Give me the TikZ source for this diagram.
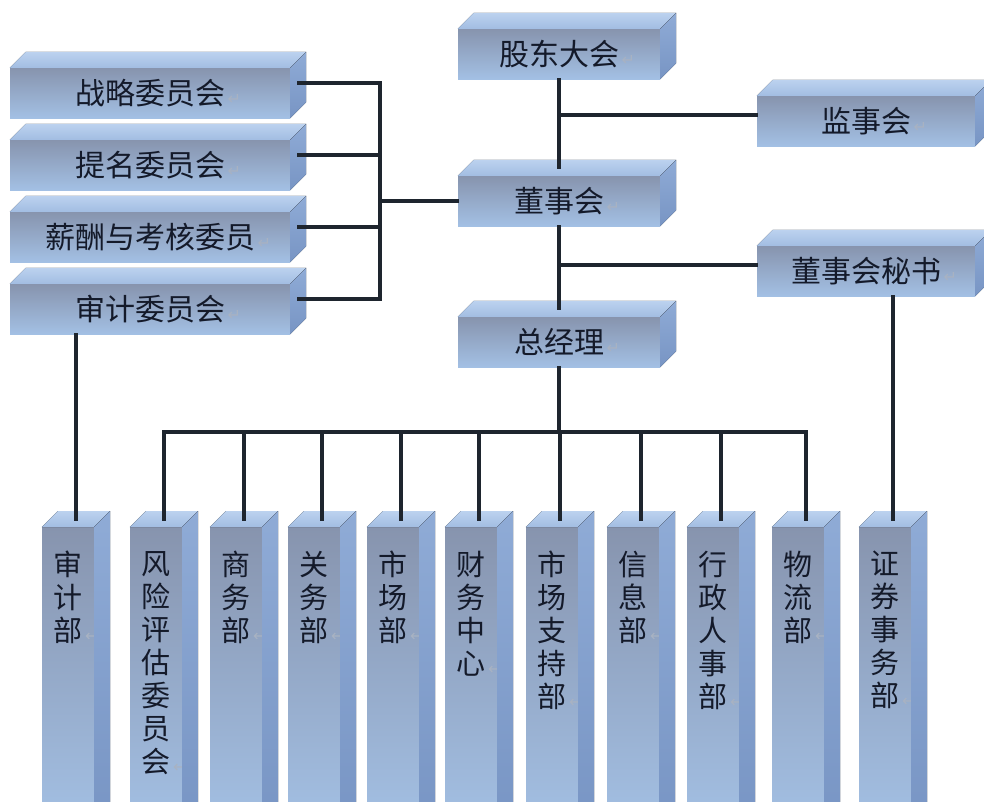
\documentclass[tikz,border=0pt]{standalone}
\usepackage{fontspec}
\newfontfamily\cjk{Noto Sans CJK SC}
\newfontfamily\symf{DejaVu Sans}
\definecolor{frontTop}{HTML}{8794AE}
\definecolor{frontBot}{HTML}{A3C0E4}
\definecolor{topBack}{HTML}{BCD2EF}
\definecolor{topFront}{HTML}{A2BDE2}
\definecolor{sideTop}{HTML}{8FABD6}
\definecolor{sideBot}{HTML}{7895C4}
\definecolor{wire}{HTML}{1E252E}
\definecolor{retmark}{HTML}{A8B2C2}
\definecolor{ink}{HTML}{141A2A}
\newcommand{\ret}{\rlap{\textcolor{retmark}{\symf\fontsize{16}{16}\selectfont\,↵}}}

\begin{document}
\begin{tikzpicture}
	[x=1pt,y=-1pt,
	box/.style={rectangle, inner sep=0pt, top color=frontTop, bottom color=frontBot, text=ink, font=\cjk\fontsize{30}{34}\selectfont},
	hbox/.style={box, minimum width=202pt, minimum height=50pt},
	rbox/.style={box, minimum width=218pt, minimum height=50pt},
	cbox/.style={box, minimum width=280pt, minimum height=50pt},
	col/.style={rectangle, inner sep=0pt, anchor=north, minimum width=52pt, minimum height=300pt, top color=frontTop, middle color=frontBot, bottom color=frontBot},
	coltext/.style={anchor=north, inner sep=0pt, align=center, text=ink, font=\cjk\fontsize{29}{33}\selectfont},
	wire/.style={draw=wire, line width=3.2pt, line cap=rect}]
	\clip (0,0) rectangle (984,801);
	\fill[white] (0,0) rectangle (984,801);

	% middle and right
	\node[hbox] (gd) at (559,54) {股东大会\ret};
	\node[rbox] (jsh) at (866,121) {监事会\ret};
	\node[hbox] (dsh) at (559,201) {董事会\ret};
	\node[rbox] (ms) at (866,271) {董事会秘书\ret};
	\node[hbox] (zjl) at (559,342) {总经理\ret};

	% committees
	\node[cbox] (zl) at (150,93) {战略委员会\ret};
	\node[cbox] (tm) at (150,165) {提名委员会\ret};
	\node[cbox] (xc) at (150,237) {薪酬与考核委员\ret};
	\node[cbox] (sj) at (150,309) {审计委员会\ret};

	% departments
	\node[col] (sjb) at (68,527) {};
	\node[col] (fx) at (156,527) {};
	\node[col] (sw) at (236,527) {};
	\node[col] (gw) at (314,527) {};
	\node[col] (sc) at (393,527) {};
	\node[col] (cw) at (471,527) {};
	\node[col] (sczc) at (552,527) {};
	\node[col] (xx) at (633,527) {};
	\node[col] (xz) at (713,527) {};
	\node[col] (wl) at (798,527) {};
	\node[col] (zq) at (885,527) {};

	\node[coltext] (sjbt) at ([yshift=-24pt]sjb.north) {审\\计\\部\ret};
	\node[coltext] (fxt) at ([yshift=-24pt]fx.north) {风\\险\\评\\估\\委\\员\\会\ret};
	\node[coltext] (swt) at ([yshift=-24pt]sw.north) {商\\务\\部\ret};
	\node[coltext] (gwt) at ([yshift=-24pt]gw.north) {关\\务\\部\ret};
	\node[coltext] (sct) at ([yshift=-24pt]sc.north) {市\\场\\部\ret};
	\node[coltext] (cwt) at ([yshift=-24pt]cw.north) {财\\务\\中\\心\ret};
	\node[coltext] (sczct) at ([yshift=-24pt]sczc.north) {市\\场\\支\\持\\部\ret};
	\node[coltext] (xxt) at ([yshift=-24pt]xx.north) {信\\息\\部\ret};
	\node[coltext] (xzt) at ([yshift=-24pt]xz.north) {行\\政\\人\\事\\部\ret};
	\node[coltext] (wlt) at ([yshift=-24pt]wl.north) {物\\流\\部\ret};
	\node[coltext] (zqt) at ([yshift=-24pt]zq.north) {证\\券\\事\\务\\部\ret};

	% top and side faces
	\foreach \n in {gd,jsh,dsh,ms,zjl,zl,tm,xc,sj,sjb,fx,sw,gw,sc,cw,sczc,xx,xz,wl,zq} {
		\fill[top color=topBack, bottom color=topFront] (\n.north west) -- ++(16,-16) -- ([shift={(16,-16)}]\n.north east) -- (\n.north east) -- cycle;
		\fill[top color=sideTop, bottom color=sideBot] (\n.north east) -- ++(16,-16) -- ([shift={(16,-16)}]\n.south east) -- (\n.south east) -- cycle;
	}

	% connectors
	\coordinate (j1) at (559,115);
	\coordinate (j2) at (559,265);
	\coordinate (bus) at (559,432);
	\coordinate (lbus) at (380,201);

	\draw[wire] (gd.south) -- ([yshift=8pt]dsh.north);
	\draw[wire] (dsh.south) -- ([yshift=8pt]zjl.north);
	\draw[wire] (j1) -- (j1 -| jsh.west);
	\draw[wire] (j2) -- (j2 -| ms.west);
	\draw[wire] (zjl.south) -- (bus);
	\draw[wire] (lbus) -- (lbus -| dsh.west);

	\foreach \n in {zl,tm,xc,sj} {
		\coordinate (s\n) at ([shift={(8,-10)}]\n.east);
		\draw[wire] (s\n) -- (s\n -| lbus);
	}
	\draw[wire] (szl -| lbus) -- (ssj -| lbus);

	\foreach \n in {sjb,fx,sw,gw,sc,cw,sczc,xx,xz,wl,zq}
		\coordinate (t\n) at ([shift={(8,-8)}]\n.north);
	\draw[wire] (tfx |- bus) -- (twl |- bus);
	\foreach \n in {fx,sw,gw,sc,cw,sczc,xx,xz,wl}
		\draw[wire] (t\n |- bus) -- (t\n);
	\draw[wire] (tsjb |- sj.south) -- (tsjb);
	\draw[wire] (tzq |- ms.south) -- (tzq);
\end{tikzpicture}
\end{document}
